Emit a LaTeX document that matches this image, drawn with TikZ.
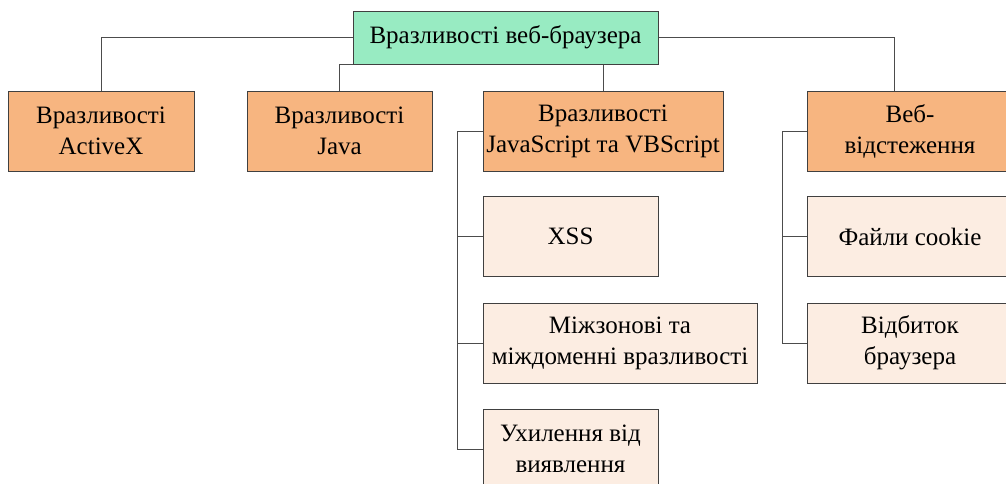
\documentclass[tikz,border=0pt]{standalone}
\usepackage{fontspec}
\setmainfont{Liberation Serif}
\usetikzlibrary{positioning,calc}

\definecolor{rootgreen}{HTML}{98EBC2}
\definecolor{catorange}{HTML}{F7B580}
\definecolor{subbeige}{HTML}{FCEDE2}

\begin{document}
\begin{tikzpicture}[x=1pt, y=-1pt,
    box/.style={draw=black!75, line width=1pt, inner sep=0pt, align=center,
                font=\fontsize{25}{31}\selectfont},
    rootbox/.style={box, fill=rootgreen, minimum width=305pt, minimum height=53pt},
    catbox/.style={box, fill=catorange, minimum height=80pt},
    subbox/.style={box, fill=subbeige, minimum height=80pt},
    link/.style={draw=black!70, line width=1pt}
]
\useasboundingbox (0,0) rectangle (1006,483);
\clip (0,0) rectangle (1006,483);

% Root
\node[rootbox] (browser) at (505.5, 37.5) {Вразливості веб-браузера};

% Categories
\node[catbox, minimum width=186pt] (activex) at (101, 131) {Вразливості\\ActiveX};
\node[catbox, minimum width=185pt] (java) at (339.5, 131) {Вразливості\\Java};
\node[catbox, minimum width=240pt] (js) at (603, 131) {Вразливості\\JavaScript та VBScript};
\node[catbox, minimum width=206pt] (webtrack) at (910, 131) {Веб-\\відстеження};

% Script vulnerabilities
\node[subbox, minimum width=175pt] (xss) at (570.5, 236.5) {XSS};
\node[subbox, minimum width=274pt] (crosszone) at (620, 343) {Міжзонові та\\міждоменні вразливості};
\node[subbox, minimum width=175pt] (evasion) at (570.5, 449) {Ухилення від\\виявлення};

% Web tracking
\node[subbox, minimum width=206pt] (cookie) at (910, 236.5) {Файли cookie};
\node[subbox, minimum width=206pt] (fingerprint) at (910, 343) {Відбиток\\браузера};

% Connectors
\coordinate (webtop) at ([xshift=-16pt]webtrack.north);
\coordinate (jsbus) at ([xshift=-25pt]js.west);
\coordinate (webbus) at ([xshift=-24pt]webtrack.west);

\draw[link] (browser.west) -| (activex.north);
\draw[link] (browser.south west) -| (java.north);
\draw[link] (js.north |- browser.south) -- (js.north);
\draw[link] (browser.east) -| (webtop);

\foreach \n in {xss, crosszone, evasion}
    \draw[link] (js.west) -- (jsbus) |- (\n.west);
\foreach \n in {cookie, fingerprint}
    \draw[link] (webtrack.west) -- (webbus) |- (\n.west);

\end{tikzpicture}
\end{document}
